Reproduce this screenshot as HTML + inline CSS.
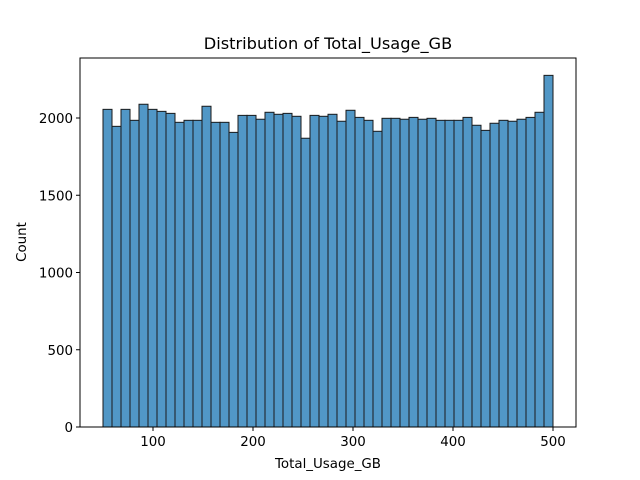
<!DOCTYPE html>
<html><head><meta charset="utf-8"><style>
body{margin:0;background:#fff;}
svg{display:block;font-family:"DejaVu Sans","Liberation Sans",sans-serif;}
</style></head><body>
<svg id="chart" width="640" height="480">
<text x="328" y="49" text-anchor="middle" font-size="16.2">Distribution of Total_Usage_GB</text>
<g id="bars"></g>
<g id="axes"></g>
<text x="328" y="468" text-anchor="middle" font-size="13.4">Total_Usage_GB</text>
<text transform="translate(26,242) rotate(-90)" text-anchor="middle" font-size="13.4">Count</text>
</svg>
<script>
const binStart = 50;
const binWidth = 9;
const counts = [2056,1946,2056,1985,2089,2056,2043,2030,1972,1985,1985,2076,1972,1972,1907,2017,2017,1992,2037,2024,2030,2011,1869,2017,2011,2024,1979,2050,2004,1985,1914,1998,1998,1992,2004,1992,1998,1985,1985,1985,2004,1953,1920,1966,1985,1979,1992,2004,2037,2276];
const xTicks = [100,200,300,400,500];
const yTicks = [0,500,1000,1500,2000];
const NS = "http://www.w3.org/2000/svg";
const L=80,R=576,T=58,B=427;
const xs = v => 153 + (v-100)*1.0;
const ys = v => B - v*0.1545;
const bars = document.getElementById('bars');
counts.forEach((c,i)=>{
  const r=document.createElementNS(NS,'rect');
  const x0=xs(binStart+i*binWidth), x1=xs(binStart+(i+1)*binWidth);
  r.setAttribute('x',x0);r.setAttribute('width',x1-x0);
  r.setAttribute('y',ys(c));r.setAttribute('height',B-ys(c));
  r.setAttribute('fill','#5197c6');r.setAttribute('stroke','#1a1a1a');r.setAttribute('stroke-width','1');
  
  
  bars.appendChild(r);
});
const ax=document.getElementById('axes');
function line(x1,y1,x2,y2){const l=document.createElementNS(NS,'line');l.setAttribute('x1',x1);l.setAttribute('y1',y1);l.setAttribute('x2',x2);l.setAttribute('y2',y2);l.setAttribute('stroke','#000');l.setAttribute('stroke-width','1');ax.appendChild(l);return l;}
const frame=document.createElementNS(NS,'rect');
frame.setAttribute('x',L);frame.setAttribute('y',T);frame.setAttribute('width',R-L);frame.setAttribute('height',B-T);
frame.setAttribute('fill','none');frame.setAttribute('stroke','#000');


ax.appendChild(frame);
xTicks.forEach(v=>{
  line(xs(v),B,xs(v),B+4);
  const t=document.createElementNS(NS,'text');
  t.setAttribute('x',xs(v));t.setAttribute('y',B+19);t.setAttribute('text-anchor','middle');t.setAttribute('font-size','13.4');
  t.textContent=v;
  
  
  ax.appendChild(t);
});
yTicks.forEach(v=>{
  line(L-4,ys(v),L,ys(v));
  const t=document.createElementNS(NS,'text');
  t.setAttribute('x',L-7);t.setAttribute('y',ys(v)+5);t.setAttribute('text-anchor','end');t.setAttribute('font-size','13.4');
  t.textContent=v;
  
  
  ax.appendChild(t);
});
</script>
</body></html>
